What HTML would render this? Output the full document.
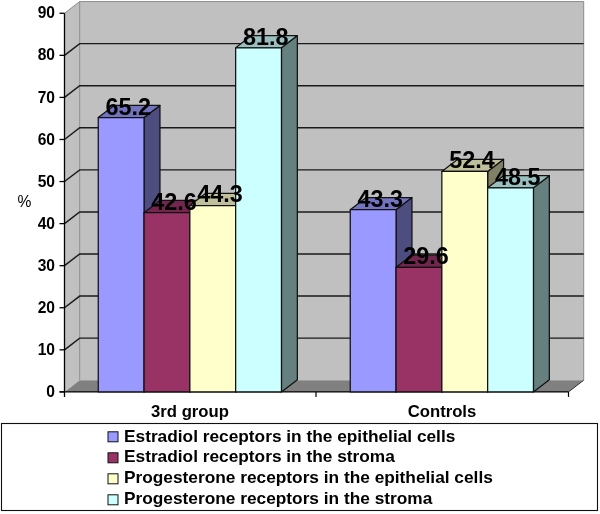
<!DOCTYPE html>
<html><head><meta charset="utf-8"><title>chart</title>
<style>html,body{margin:0;padding:0;background:#fff}svg text{font-family:"Liberation Sans",Arial,sans-serif;fill:#000}</style></head>
<body>
<svg width="600" height="514" viewBox="0 0 600 514" style="display:block">
<rect width="600" height="514" fill="#fff"/>
<rect x="79.7" y="1.57" width="504.00000000000006" height="378.63" fill="#c0c0c0"/>
<polygon points="64.5,13.27 79.7,1.57 79.7,380.20 64.5,391.90" fill="#c0c0c0"/>
<polygon points="64.5,391.90 79.7,380.20 583.7,380.20 568.5,391.90" fill="#808080"/>
<path d="M64.5,13.27 L79.7,1.57 H583.7 V380.20 M79.7,1.57 V380.20" fill="none" stroke="#8c8c8c" stroke-width="1"/>
<path d="M64.5,349.83 L79.7,338.13 H583.7" fill="none" stroke="#1a1a1a" stroke-width="1.45"/>
<path d="M64.5,307.76 L79.7,296.06 H583.7" fill="none" stroke="#1a1a1a" stroke-width="1.45"/>
<path d="M64.5,265.69 L79.7,253.99 H583.7" fill="none" stroke="#1a1a1a" stroke-width="1.45"/>
<path d="M64.5,223.62 L79.7,211.92 H583.7" fill="none" stroke="#1a1a1a" stroke-width="1.45"/>
<path d="M64.5,181.55 L79.7,169.85 H583.7" fill="none" stroke="#1a1a1a" stroke-width="1.45"/>
<path d="M64.5,139.48 L79.7,127.78 H583.7" fill="none" stroke="#1a1a1a" stroke-width="1.45"/>
<path d="M64.5,97.41 L79.7,85.71 H583.7" fill="none" stroke="#1a1a1a" stroke-width="1.45"/>
<path d="M64.5,55.34 L79.7,43.64 H583.7" fill="none" stroke="#1a1a1a" stroke-width="1.45"/>
<path d="M568.5,391.90 L583.7,380.20" stroke="#333" stroke-width="1" fill="none"/>
<path d="M64.5,13.27 V396.90" stroke="#000" stroke-width="1.3" fill="none"/>
<path d="M59.5,391.90 H568.5" stroke="#000" stroke-width="1.3" fill="none"/>
<path d="M59.5,391.90 H64.5" stroke="#000" stroke-width="1.3"/>
<path d="M59.5,349.83 H64.5" stroke="#000" stroke-width="1.3"/>
<path d="M59.5,307.76 H64.5" stroke="#000" stroke-width="1.3"/>
<path d="M59.5,265.69 H64.5" stroke="#000" stroke-width="1.3"/>
<path d="M59.5,223.62 H64.5" stroke="#000" stroke-width="1.3"/>
<path d="M59.5,181.55 H64.5" stroke="#000" stroke-width="1.3"/>
<path d="M59.5,139.48 H64.5" stroke="#000" stroke-width="1.3"/>
<path d="M59.5,97.41 H64.5" stroke="#000" stroke-width="1.3"/>
<path d="M59.5,55.34 H64.5" stroke="#000" stroke-width="1.3"/>
<path d="M59.5,13.27 H64.5" stroke="#000" stroke-width="1.3"/>
<path d="M316,391.90 v5" stroke="#000" stroke-width="1.2"/>
<path d="M568.5,391.90 v5" stroke="#000" stroke-width="1.2"/>
<polygon points="144.05,117.60 159.95,105.40 159.95,379.70 144.05,391.90" fill="#4d4d80" stroke="#111" stroke-width="1.25" stroke-linejoin="round"/>
<polygon points="98.25,117.60 114.15,105.40 159.95,105.40 144.05,117.60" fill="#7373bf" stroke="#111" stroke-width="1.25" stroke-linejoin="round"/>
<rect x="98.25" y="117.60" width="45.8" height="274.30" fill="#9999ff" stroke="#111" stroke-width="1.25" stroke-linejoin="round"/>
<polygon points="189.85,212.68 205.75,200.48 205.75,379.70 189.85,391.90" fill="#4d1a33" stroke="#111" stroke-width="1.25" stroke-linejoin="round"/>
<polygon points="144.05,212.68 159.95,200.48 205.75,200.48 189.85,212.68" fill="#73264d" stroke="#111" stroke-width="1.25" stroke-linejoin="round"/>
<rect x="144.05" y="212.68" width="45.8" height="179.22" fill="#993366" stroke="#111" stroke-width="1.25" stroke-linejoin="round"/>
<polygon points="235.65,205.53 251.55,193.33 251.55,379.70 235.65,391.90" fill="#808066" stroke="#111" stroke-width="1.25" stroke-linejoin="round"/>
<polygon points="189.85,205.53 205.75,193.33 251.55,193.33 235.65,205.53" fill="#bfbf99" stroke="#111" stroke-width="1.25" stroke-linejoin="round"/>
<rect x="189.85" y="205.53" width="45.8" height="186.37" fill="#ffffcc" stroke="#111" stroke-width="1.25" stroke-linejoin="round"/>
<polygon points="281.45,47.77 297.35,35.57 297.35,379.70 281.45,391.90" fill="#668080" stroke="#111" stroke-width="1.25" stroke-linejoin="round"/>
<polygon points="235.65,47.77 251.55,35.57 297.35,35.57 281.45,47.77" fill="#99bfbf" stroke="#111" stroke-width="1.25" stroke-linejoin="round"/>
<rect x="235.65" y="47.77" width="45.8" height="344.13" fill="#ccffff" stroke="#111" stroke-width="1.25" stroke-linejoin="round"/>
<polygon points="396.05,209.74 411.95,197.54 411.95,379.70 396.05,391.90" fill="#4d4d80" stroke="#111" stroke-width="1.25" stroke-linejoin="round"/>
<polygon points="350.25,209.74 366.15,197.54 411.95,197.54 396.05,209.74" fill="#7373bf" stroke="#111" stroke-width="1.25" stroke-linejoin="round"/>
<rect x="350.25" y="209.74" width="45.8" height="182.16" fill="#9999ff" stroke="#111" stroke-width="1.25" stroke-linejoin="round"/>
<polygon points="441.85,267.37 457.75,255.17 457.75,379.70 441.85,391.90" fill="#4d1a33" stroke="#111" stroke-width="1.25" stroke-linejoin="round"/>
<polygon points="396.05,267.37 411.95,255.17 457.75,255.17 441.85,267.37" fill="#73264d" stroke="#111" stroke-width="1.25" stroke-linejoin="round"/>
<rect x="396.05" y="267.37" width="45.8" height="124.53" fill="#993366" stroke="#111" stroke-width="1.25" stroke-linejoin="round"/>
<polygon points="487.65,171.45 503.55,159.25 503.55,379.70 487.65,391.90" fill="#808066" stroke="#111" stroke-width="1.25" stroke-linejoin="round"/>
<polygon points="441.85,171.45 457.75,159.25 503.55,159.25 487.65,171.45" fill="#bfbf99" stroke="#111" stroke-width="1.25" stroke-linejoin="round"/>
<rect x="441.85" y="171.45" width="45.8" height="220.45" fill="#ffffcc" stroke="#111" stroke-width="1.25" stroke-linejoin="round"/>
<polygon points="533.45,187.86 549.35,175.66 549.35,379.70 533.45,391.90" fill="#668080" stroke="#111" stroke-width="1.25" stroke-linejoin="round"/>
<polygon points="487.65,187.86 503.55,175.66 549.35,175.66 533.45,187.86" fill="#99bfbf" stroke="#111" stroke-width="1.25" stroke-linejoin="round"/>
<rect x="487.65" y="187.86" width="45.8" height="204.04" fill="#ccffff" stroke="#111" stroke-width="1.25" stroke-linejoin="round"/>
<text x="128.3" y="114.5" text-anchor="middle" font-size="23.4" font-weight="bold">65.2</text>
<text x="174.1" y="209.6" text-anchor="middle" font-size="23.4" font-weight="bold">42.6</text>
<text x="219.9" y="202.4" text-anchor="middle" font-size="23.4" font-weight="bold">44.3</text>
<text x="265.7" y="44.7" text-anchor="middle" font-size="23.4" font-weight="bold">81.8</text>
<text x="380.3" y="206.6" text-anchor="middle" font-size="23.4" font-weight="bold">43.3</text>
<text x="426.1" y="264.3" text-anchor="middle" font-size="23.4" font-weight="bold">29.6</text>
<text x="471.9" y="168.4" text-anchor="middle" font-size="23.4" font-weight="bold">52.4</text>
<text x="517.7" y="184.8" text-anchor="middle" font-size="23.4" font-weight="bold">48.5</text>
<text x="55" y="397.0" text-anchor="end" font-size="15.6" font-weight="bold">0</text>
<text x="55" y="354.9" text-anchor="end" font-size="15.6" font-weight="bold">10</text>
<text x="55" y="312.9" text-anchor="end" font-size="15.6" font-weight="bold">20</text>
<text x="55" y="270.8" text-anchor="end" font-size="15.6" font-weight="bold">30</text>
<text x="55" y="228.7" text-anchor="end" font-size="15.6" font-weight="bold">40</text>
<text x="55" y="186.6" text-anchor="end" font-size="15.6" font-weight="bold">50</text>
<text x="55" y="144.6" text-anchor="end" font-size="15.6" font-weight="bold">60</text>
<text x="55" y="102.5" text-anchor="end" font-size="15.6" font-weight="bold">70</text>
<text x="55" y="60.4" text-anchor="end" font-size="15.6" font-weight="bold">80</text>
<text x="55" y="18.4" text-anchor="end" font-size="15.6" font-weight="bold">90</text>
<text x="17.6" y="206.8" font-size="15.6">%</text>
<text x="190" y="416.5" text-anchor="middle" font-size="16.7" font-weight="bold">3rd group</text>
<text x="442" y="416.5" text-anchor="middle" font-size="16.7" font-weight="bold">Controls</text>
<rect x="1.5" y="423.5" width="596" height="87" fill="#fff" stroke="#111" stroke-width="1.1"/>
<rect x="108" y="431.8" width="10" height="10" fill="#9999ff" stroke="#111" stroke-width="1"/>
<text x="124" y="441.5" font-size="17.3" font-weight="bold">Estradiol receptors in the epithelial cells</text>
<rect x="108" y="452.8" width="10" height="10" fill="#993366" stroke="#111" stroke-width="1"/>
<text x="124" y="462.4" font-size="17.3" font-weight="bold">Estradiol receptors in the stroma</text>
<rect x="108" y="473.8" width="10" height="10" fill="#ffffcc" stroke="#111" stroke-width="1"/>
<text x="124" y="483.3" font-size="17.3" font-weight="bold">Progesterone receptors in the epithelial cells</text>
<rect x="108" y="494.8" width="10" height="10" fill="#ccffff" stroke="#111" stroke-width="1"/>
<text x="124" y="504.2" font-size="17.3" font-weight="bold">Progesterone receptors in the stroma</text>
</svg>
</body></html>
